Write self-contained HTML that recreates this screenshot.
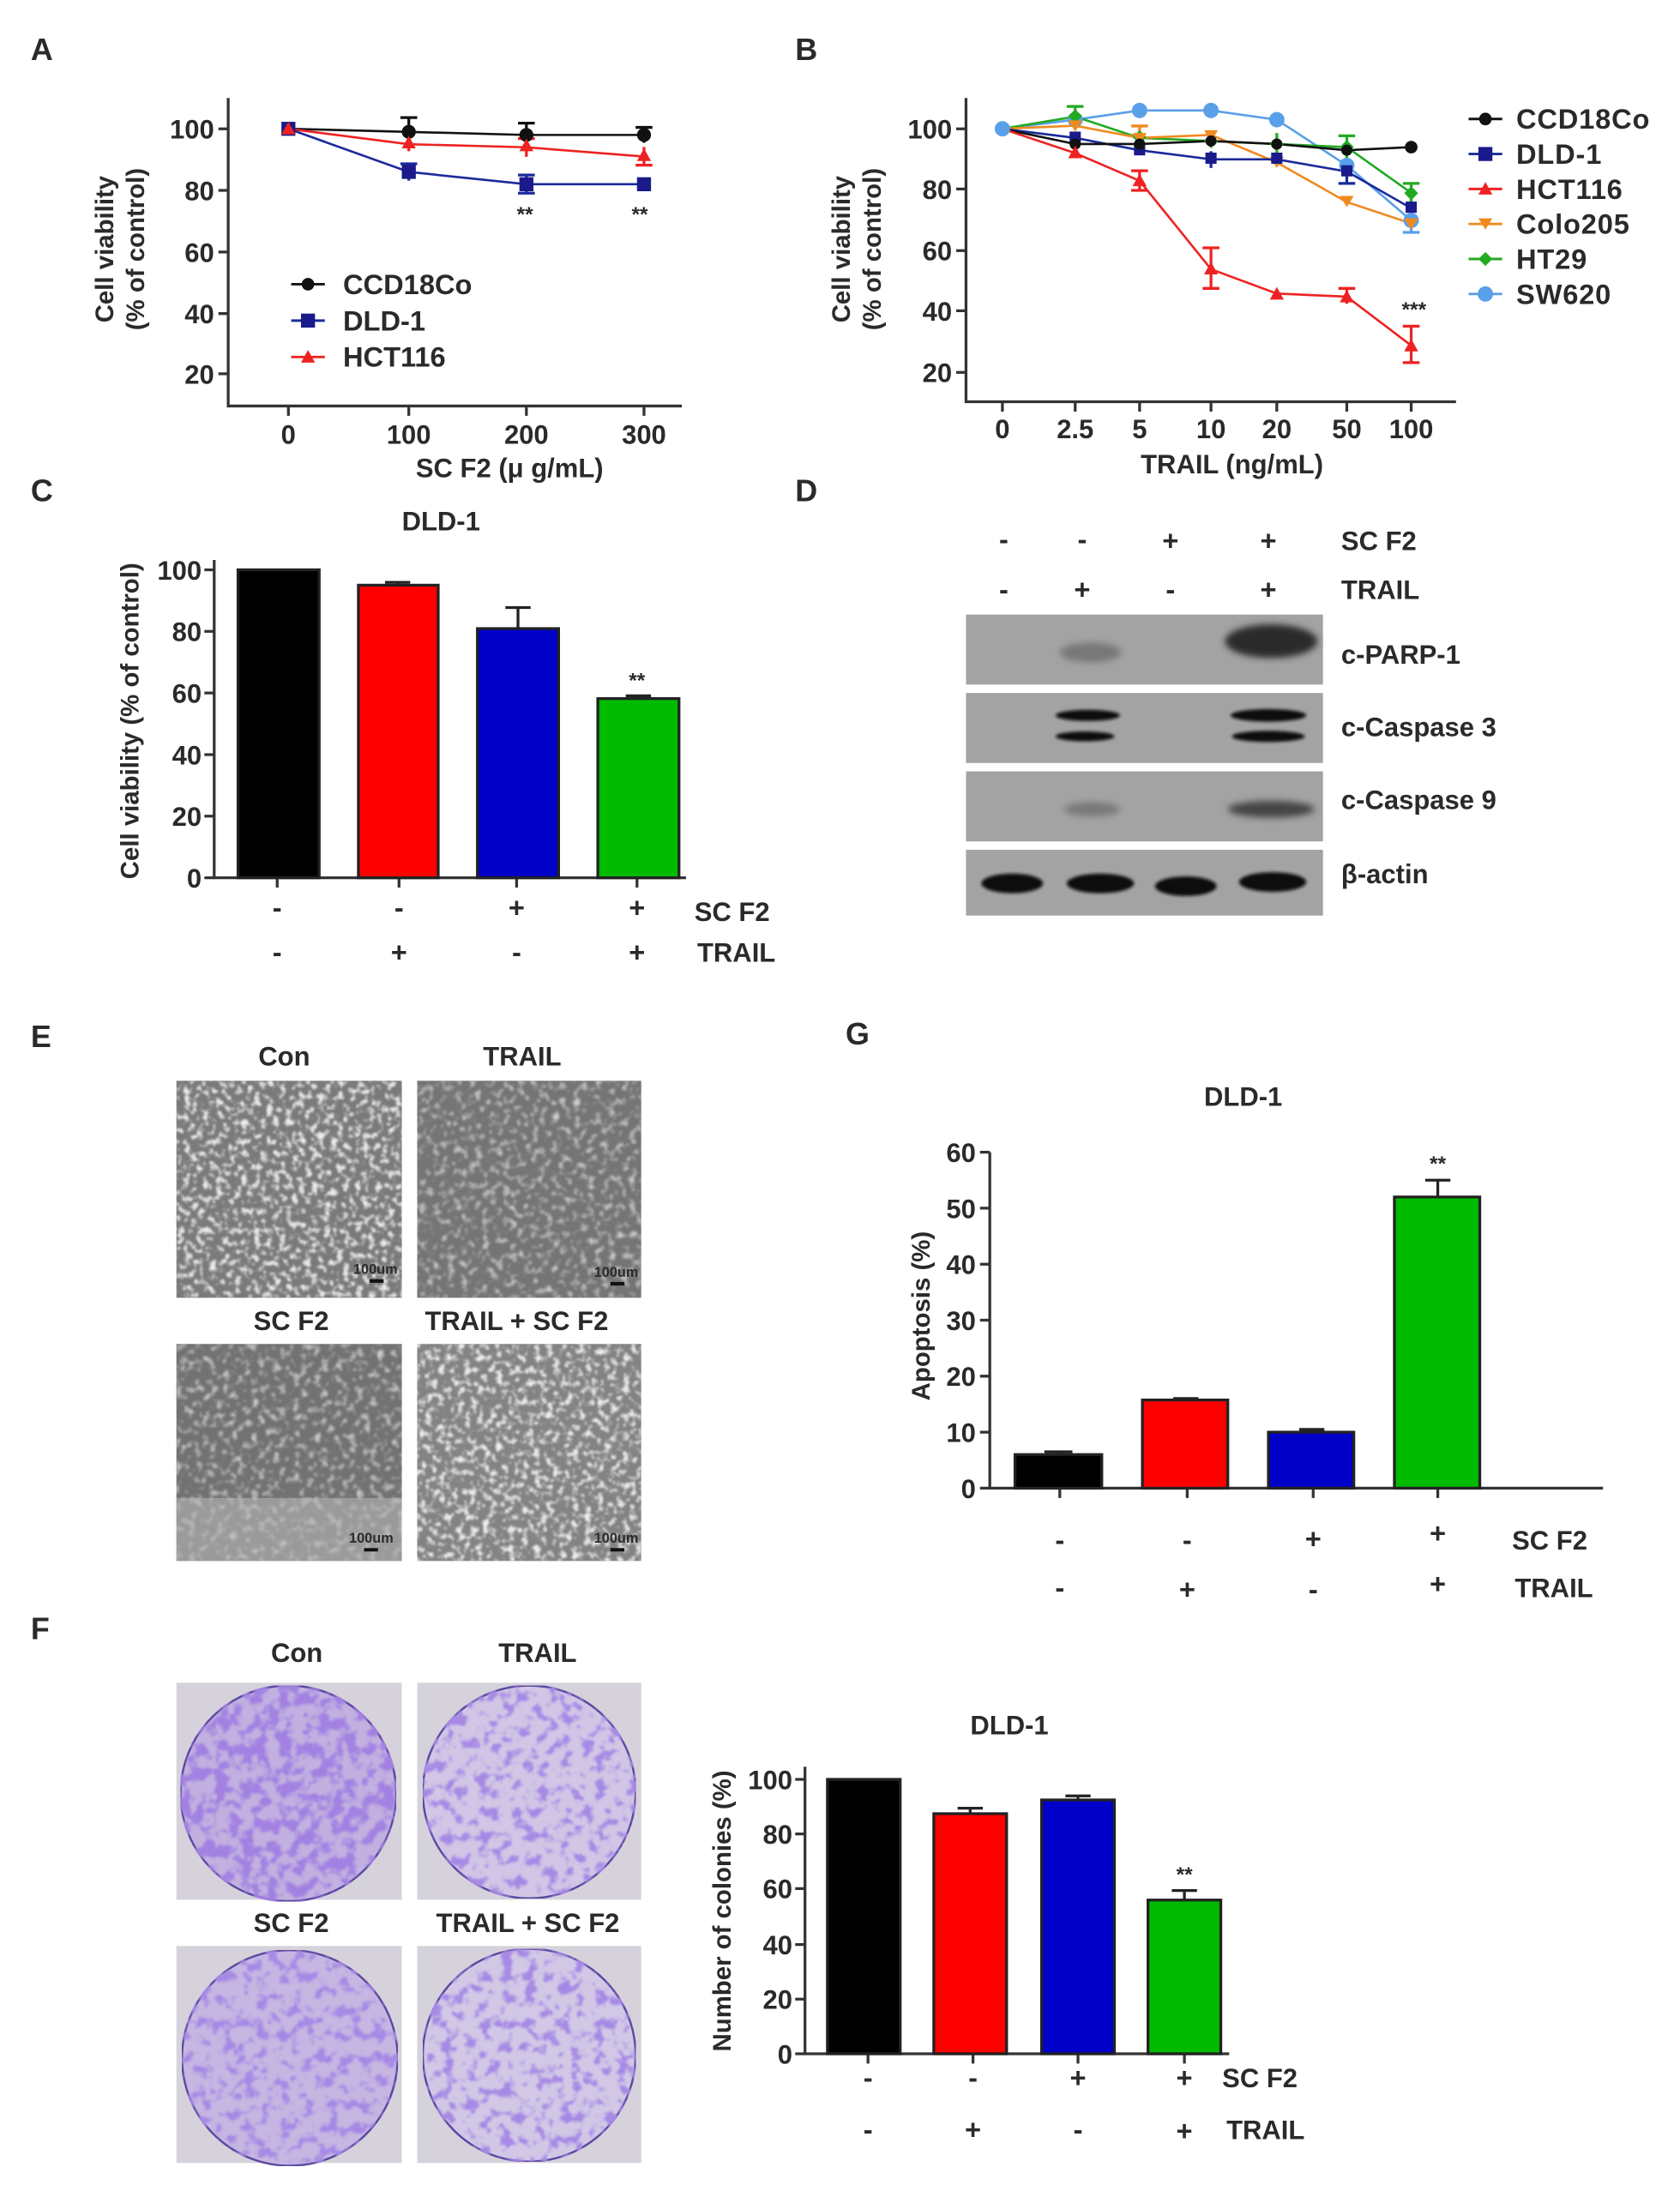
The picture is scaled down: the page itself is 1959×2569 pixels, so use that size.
<!DOCTYPE html>
<html><head><meta charset="utf-8"><style>
html,body{margin:0;padding:0;background:#fff;}
svg{display:block;}
text{font-family:"Liberation Sans",Arial,sans-serif;font-weight:bold;fill:#2a2a2a;}
</style></head><body>
<svg width="1959" height="2569" viewBox="0 0 1200 1573.6" preserveAspectRatio="none" xmlns="http://www.w3.org/2000/svg">
<defs>
<filter id="micro" x="0" y="0" width="100%" height="100%">
<feTurbulence type="fractalNoise" baseFrequency="0.22" numOctaves="2" seed="3" result="n"/>
<feColorMatrix in="n" type="matrix" values="0 0 0 0 0.85 0 0 0 0 0.85 0 0 0 0 0.85 4 0 0 0 -2.0" result="s"/>
<feGaussianBlur in="s" stdDeviation="0.7" result="sb"/>
<feComposite in="sb" in2="SourceGraphic" operator="in" result="c"/>
<feMerge><feMergeNode in="SourceGraphic"/><feMergeNode in="c"/></feMerge>
</filter>
<filter id="micro2" x="0" y="0" width="100%" height="100%">
<feTurbulence type="fractalNoise" baseFrequency="0.2" numOctaves="2" seed="9" result="n"/>
<feColorMatrix in="n" type="matrix" values="0 0 0 0 0.75 0 0 0 0 0.75 0 0 0 0 0.75 2.5 0 0 0 -1.3" result="s"/>
<feGaussianBlur in="s" stdDeviation="0.8" result="sb"/>
<feComposite in="sb" in2="SourceGraphic" operator="in" result="c"/>
<feMerge><feMergeNode in="SourceGraphic"/><feMergeNode in="c"/></feMerge>
</filter>
<filter id="spots" x="0" y="0" width="100%" height="100%">
<feTurbulence type="fractalNoise" baseFrequency="0.11" numOctaves="3" seed="5" result="n"/>
<feColorMatrix in="n" type="matrix" values="0 0 0 0 0.36 0 0 0 0 0.22 0 0 0 0 0.76 6 0 0 0 -2.6" result="s"/>
<feGaussianBlur in="s" stdDeviation="0.6" result="sb"/>
<feComposite in="sb" in2="SourceGraphic" operator="in" result="c"/>
<feMerge><feMergeNode in="SourceGraphic"/><feMergeNode in="c"/></feMerge>
</filter>
<filter id="spots2" x="0" y="0" width="100%" height="100%">
<feTurbulence type="fractalNoise" baseFrequency="0.12" numOctaves="3" seed="11" result="n"/>
<feColorMatrix in="n" type="matrix" values="0 0 0 0 0.38 0 0 0 0 0.25 0 0 0 0 0.78 6 0 0 0 -3.0" result="s"/>
<feGaussianBlur in="s" stdDeviation="0.6" result="sb"/>
<feComposite in="sb" in2="SourceGraphic" operator="in" result="c"/>
<feMerge><feMergeNode in="SourceGraphic"/><feMergeNode in="c"/></feMerge>
</filter>
<filter id="blur2"><feGaussianBlur stdDeviation="2.5"/></filter>
<filter id="blur1"><feGaussianBlur stdDeviation="1.2"/></filter>
</defs>

<!-- Panel letters -->
<text x="22" y="43" font-size="22">A</text>
<text x="568" y="43" font-size="22">B</text>
<text x="22" y="358" font-size="22">C</text>
<text x="568" y="358" font-size="22">D</text>
<text x="22" y="748" font-size="22">E</text>
<text x="604" y="746" font-size="22">G</text>
<text x="22" y="1171" font-size="22">F</text>

<!-- ===== Panel A ===== -->
<g stroke="#333" stroke-width="2" fill="none">
<path d="M163 70 V290 H487"/>
<path d="M156 92H163M156 136H163M156 180H163M156 224H163M156 267H163"/>
<path d="M206 290V297M292 290V297M376 290V297M460 290V297"/>
</g>
<g font-size="19" text-anchor="end">
<text x="153" y="99">100</text><text x="153" y="143">80</text><text x="153" y="187">60</text><text x="153" y="231">40</text><text x="153" y="274">20</text>
</g>
<g font-size="19" text-anchor="middle">
<text x="206" y="317">0</text><text x="292" y="317">100</text><text x="376" y="317">200</text><text x="460" y="317">300</text>
<text x="364" y="341">SC F2 (μ g/mL)</text>
</g>
<g font-size="18" text-anchor="middle">
<text transform="translate(81,178) rotate(-90)">Cell viability</text>
<text transform="translate(103,178) rotate(-90)">(% of control)</text>
</g>
<polyline points="206,92 292,94.2 376,96.4 460,96.4" fill="none" stroke="#111" stroke-width="1.6"/>
<polyline points="206,92 292,103 376,105.2 460,111.8" fill="none" stroke="#e22" stroke-width="1.6"/>
<polyline points="206,92 292,122.8 376,131.6 460,131.6" fill="none" stroke="#1a2a9a" stroke-width="1.6"/>
<g stroke="#111" stroke-width="2">
<path d="M292 84V100M286 84H298M376 88V102M370 88H382M460 91V102M454 91H466"/>
</g>
<g stroke="#e22" stroke-width="2"><path d="M292 98V108M376 99V112M370 99H382M460 105V118M454 118H466"/></g>
<g stroke="#1a2a9a" stroke-width="2"><path d="M292 117V129M286 117H298M376 125V138M370 125H382M370 138H382"/></g>
<g fill="#111"><circle cx="292" cy="94.2" r="5"/><circle cx="376" cy="96.4" r="5"/><circle cx="460" cy="96.4" r="5"/></g>
<g fill="#1a1a8a"><rect x="201" y="87" width="10" height="10"/><rect x="287" y="117.8" width="10" height="10"/><rect x="371" y="126.6" width="10" height="10"/><rect x="455" y="126.6" width="10" height="10"/></g>
<g fill="#e22"><path d="M292 97l5 9h-10z"/><path d="M376 99l5 9h-10z"/><path d="M460 106l5 9h-10z"/><path d="M206 87l5 9h-10z"/></g>
<g font-size="15" text-anchor="middle" fill="#333"><text x="375" y="158">**</text><text x="457" y="158">**</text></g>
<g stroke-width="1.8"><path d="M208 203H232" stroke="#111"/><path d="M208 229H232" stroke="#1a2a9a"/><path d="M208 255H232" stroke="#e22"/></g>
<circle cx="220" cy="203" r="4.5" fill="#111"/><rect x="215" y="224" width="10" height="10" fill="#1a1a8a"/><path d="M220 250l5 9h-10z" fill="#e22"/>
<g font-size="20"><text x="245" y="210">CCD18Co</text><text x="245" y="236">DLD-1</text><text x="245" y="262">HCT116</text></g>

<!-- ===== Panel B ===== -->
<g stroke="#333" stroke-width="2" fill="none">
<path d="M690 70 V287 H1040"/>
<path d="M683 92H690M683 135H690M683 179H690M683 222H690M683 266H690"/>
<path d="M716 287V294M768 287V294M814 287V294M865 287V294M912 287V294M962 287V294M1008 287V294"/>
</g>
<g font-size="19" text-anchor="end">
<text x="680" y="99">100</text><text x="680" y="142">80</text><text x="680" y="186">60</text><text x="680" y="229">40</text><text x="680" y="273">20</text>
</g>
<g font-size="19" text-anchor="middle">
<text x="716" y="313">0</text><text x="768" y="313">2.5</text><text x="814" y="313">5</text><text x="865" y="313">10</text><text x="912" y="313">20</text><text x="962" y="313">50</text><text x="1008" y="313">100</text>
<text x="880" y="338">TRAIL (ng/mL)</text>
</g>
<g font-size="18" text-anchor="middle">
<text transform="translate(607,178) rotate(-90)">Cell viability</text>
<text transform="translate(629,178) rotate(-90)">(% of control)</text>
</g>
<g fill="none" stroke-width="1.6">
<polyline stroke="#5aa0e8" points="716,92 768,85.5 814,78.9 865,78.9 912,85.5 962,118.2 1008,157.4"/>
<polyline stroke="#22aa22" points="716,92 768,83.3 814,98.5 865,100.7 912,102.9 962,105.1 1008,137.8"/>
<polyline stroke="#f08a20" points="716,92 768,89.8 814,98.5 865,96.4 912,116 962,144.3 1008,159.6"/>
<polyline stroke="#1a2a9a" points="716,92 768,98.5 814,107.3 865,113.8 912,113.8 962,122.5 1008,148.7"/>
<polyline stroke="#111" points="716,92 768,102.9 814,102.9 865,100.7 912,102.9 962,107.3 1008,105.1"/>
<polyline stroke="#e22" points="716,92 768,109.4 814,129.1 865,192.3 912,209.7 962,211.9 1008,246.8"/>
</g>
<g stroke-width="2">
<path stroke="#e22" d="M814 122V136M808 122H820M808 136H820M865 177V206M859 177H871M859 206H871M962 206V217M956 206H968M1008 233V259M1002 233H1014M1002 259H1014"/>
<path stroke="#22aa22" d="M768 76V90M762 76H774M912 95V110M962 97V113M956 97H968M1008 131V145M1002 131H1014"/>
<path stroke="#f08a20" d="M814 90V107M808 90H820"/>
<path stroke="#1a2a9a" d="M865 108V120M962 114V131M956 131H968"/>
<path stroke="#5aa0e8" d="M1008 149V166M1002 166H1014"/>
</g>
<g fill="#5aa0e8"><circle cx="716" cy="92" r="5.5"/><circle cx="768" cy="85.5" r="5.5"/><circle cx="814" cy="78.9" r="5.5"/><circle cx="865" cy="78.9" r="5.5"/><circle cx="912" cy="85.5" r="5.5"/><circle cx="962" cy="118.2" r="5.5"/><circle cx="1008" cy="157.4" r="5.5"/></g>
<g fill="#22aa22"><path d="M768 78l5 5-5 5-5-5z"/><path d="M814 93l5 5-5 5-5-5z"/><path d="M865 96l5 5-5 5-5-5z"/><path d="M912 98l5 5-5 5-5-5z"/><path d="M962 100l5 5-5 5-5-5z"/><path d="M1008 133l5 5-5 5-5-5z"/></g>
<g fill="#f08a20"><path d="M763 86h10l-5 8z"/><path d="M809 95h10l-5 8z"/><path d="M860 93h10l-5 8z"/><path d="M907 112h10l-5 8z"/><path d="M957 140h10l-5 8z"/><path d="M1003 156h10l-5 8z"/></g>
<g fill="#1a1a8a"><rect x="764" y="94" width="8" height="8"/><rect x="810" y="103" width="8" height="8"/><rect x="861" y="109" width="8" height="8"/><rect x="908" y="109" width="8" height="8"/><rect x="958" y="118" width="8" height="8"/><rect x="1004" y="144" width="8" height="8"/></g>
<g fill="#111"><circle cx="768" cy="102.9" r="4"/><circle cx="814" cy="102.9" r="4"/><circle cx="865" cy="100.7" r="4"/><circle cx="912" cy="102.9" r="4"/><circle cx="962" cy="107.3" r="4"/><circle cx="1008" cy="105.1" r="4.5"/></g>
<g fill="#e22"><path d="M768 104l5 9h-10z"/><path d="M814 124l5 9h-10z"/><path d="M865 187l5 9h-10z"/><path d="M912 205l5 9h-10z"/><path d="M962 207l5 9h-10z"/><path d="M1008 242l5 9h-10z"/></g>
<text x="1010" y="226" font-size="15" text-anchor="middle" fill="#333">***</text>
<g stroke-width="1.8">
<path d="M1049 85H1073" stroke="#111"/><path d="M1049 110H1073" stroke="#1a2a9a"/><path d="M1049 135H1073" stroke="#e22"/><path d="M1049 160H1073" stroke="#f08a20"/><path d="M1049 185H1073" stroke="#22aa22"/><path d="M1049 210H1073" stroke="#5aa0e8"/>
</g>
<circle cx="1061" cy="85" r="4.5" fill="#111"/><rect x="1056" y="105" width="10" height="10" fill="#1a1a8a"/><path d="M1061 130l5 9h-10z" fill="#e22"/><path d="M1056 156h10l-5 8z" fill="#f08a20"/><path d="M1061 180l5 5-5 5-5-5z" fill="#22aa22"/><circle cx="1061" cy="210" r="5.5" fill="#5aa0e8"/>
<g font-size="20" letter-spacing="0.5"><text x="1083" y="92">CCD18Co</text><text x="1083" y="117">DLD-1</text><text x="1083" y="142">HCT116</text><text x="1083" y="167">Colo205</text><text x="1083" y="192">HT29</text><text x="1083" y="217">SW620</text></g>

<!-- ===== Panel C ===== -->
<text x="315" y="379" font-size="19" text-anchor="middle">DLD-1</text>
<g stroke="#333" stroke-width="2" fill="none">
<path d="M153 400V627H490"/>
<path d="M146 407H153M146 451H153M146 495H153M146 539H153M146 583H153M146 627H153"/>
<path d="M198 627V634M285 627V634M369 627V634M455 627V634"/>
</g>
<g font-size="19" text-anchor="end">
<text x="144" y="414">100</text><text x="144" y="458">80</text><text x="144" y="502">60</text><text x="144" y="546">40</text><text x="144" y="590">20</text><text x="144" y="634">0</text>
</g>
<text transform="translate(99,515) rotate(-90)" font-size="18" text-anchor="middle">Cell viability (% of control)</text>
<g stroke="#222" stroke-width="2">
<rect x="170" y="407" width="58" height="220" fill="#000"/>
<rect x="256" y="418" width="57" height="209" fill="#f00"/>
<rect x="341" y="449" width="58" height="178" fill="#0000c8"/>
<rect x="427" y="499" width="58" height="128" fill="#00bb00"/>
<path d="M370 449V434M361 434H379M456 499V497M447 497H465M284 418V416M275 416H293" fill="none"/>
</g>
<text x="455" y="491" font-size="15" text-anchor="middle" fill="#333">**</text>
<g font-size="20" text-anchor="middle">
<text x="198" y="655">-</text><text x="285" y="655">-</text><text x="369" y="655">+</text><text x="455" y="655">+</text>
<text x="198" y="687">-</text><text x="285" y="687">+</text><text x="369" y="687">-</text><text x="455" y="687">+</text>
</g>
<g font-size="19"><text x="496" y="658">SC F2</text><text x="498" y="687">TRAIL</text></g>

<!-- ===== Panel D ===== -->
<g font-size="20" text-anchor="middle">
<text x="717" y="392">-</text><text x="773" y="392">-</text><text x="836" y="393">+</text><text x="906" y="393">+</text>
<text x="717" y="428">-</text><text x="773" y="428">+</text><text x="836" y="428">-</text><text x="906" y="428">+</text>
</g>
<g font-size="19"><text x="958" y="393">SC F2</text><text x="958" y="428">TRAIL</text></g>
<g fill="#a3a3a3">
<rect x="690" y="439" width="255" height="50"/>
<rect x="690" y="495" width="255" height="50"/>
<rect x="690" y="551" width="255" height="50"/>
<rect x="690" y="607" width="255" height="47"/>
</g>
<g filter="url(#blur2)">
<ellipse cx="779" cy="466" rx="22" ry="7" fill="#777"/>
<ellipse cx="908" cy="458" rx="33" ry="12" fill="#2a2a2a"/>
<ellipse cx="780" cy="578" rx="20" ry="5" fill="#777"/>
<ellipse cx="908" cy="578" rx="31" ry="6" fill="#444"/>
</g>
<g filter="url(#blur1)" fill="#111">
<ellipse cx="777" cy="511" rx="23" ry="4"/><ellipse cx="775" cy="526" rx="21" ry="3.5"/>
<ellipse cx="906" cy="511" rx="27" ry="4.5"/><ellipse cx="906" cy="526" rx="26" ry="4"/>
<ellipse cx="723" cy="631" rx="22" ry="7"/><ellipse cx="786" cy="631" rx="24" ry="7"/><ellipse cx="847" cy="633" rx="22" ry="7"/><ellipse cx="909" cy="630" rx="24" ry="7"/>
</g>
<g font-size="19"><text x="958" y="474">c-PARP-1</text><text x="958" y="526">c-Caspase 3</text><text x="958" y="578">c-Caspase 9</text><text x="958" y="631">β-actin</text></g>

<!-- ===== Panel E ===== -->
<g font-size="19" text-anchor="middle">
<text x="203" y="761">Con</text><text x="373" y="761">TRAIL</text>
<text x="208" y="950">SC F2</text><text x="369" y="950">TRAIL + SC F2</text>
</g>
<rect x="126" y="772" width="161" height="155" fill="#7a7a7a" filter="url(#micro)"/>
<rect x="298" y="772" width="160" height="155" fill="#747474" filter="url(#micro2)"/>
<rect x="126" y="960" width="161" height="155" fill="#727272" filter="url(#micro2)"/>
<rect x="126" y="1070" width="161" height="45" fill="#b5b5b5" opacity="0.6"/>
<rect x="298" y="960" width="160" height="155" fill="#838383" filter="url(#micro)"/>
<g font-size="10" fill="#111" text-anchor="end">
<text x="284" y="910">100um</text><text x="456" y="912">100um</text><text x="281" y="1102">100um</text><text x="456" y="1102">100um</text>
</g>
<g stroke="#111" stroke-width="2.5"><path d="M264 915H274M436 917H446M260 1107H270M436 1107H446"/></g>

<!-- ===== Panel G ===== -->
<text x="888" y="790" font-size="19" text-anchor="middle">DLD-1</text>
<g stroke="#333" stroke-width="2" fill="none">
<path d="M707 823V1063H1145"/>
<path d="M700 823H707M700 863H707M700 903H707M700 943H707M700 983H707M700 1023H707M700 1063H707"/>
<path d="M757 1063V1070M848 1063V1070M938 1063V1070M1027 1063V1070"/>
</g>
<g font-size="19" text-anchor="end">
<text x="697" y="830">60</text><text x="697" y="870">50</text><text x="697" y="910">40</text><text x="697" y="950">30</text><text x="697" y="990">20</text><text x="697" y="1030">10</text><text x="697" y="1070">0</text>
</g>
<text transform="translate(664,940) rotate(-90)" font-size="18" text-anchor="middle">Apoptosis (%)</text>
<g stroke="#222" stroke-width="2">
<rect x="725" y="1039" width="62" height="24" fill="#000"/>
<rect x="816" y="1000" width="61" height="63" fill="#f00"/>
<rect x="906" y="1023" width="61" height="40" fill="#0000c8"/>
<rect x="996" y="855" width="61" height="208" fill="#00bb00"/>
<path d="M1027 855V843M1018 843H1036M756 1039V1037M746 1037H766M847 1000V999M838 999H856M937 1023V1021M928 1021H946" fill="none"/>
</g>
<text x="1027" y="836" font-size="15" text-anchor="middle" fill="#333">**</text>
<g font-size="20" text-anchor="middle">
<text x="757" y="1107">-</text><text x="848" y="1107">-</text><text x="938" y="1106">+</text><text x="1027" y="1102">+</text>
<text x="757" y="1141">-</text><text x="848" y="1142">+</text><text x="938" y="1142">-</text><text x="1027" y="1138">+</text>
</g>
<g font-size="19"><text x="1080" y="1107">SC F2</text><text x="1082" y="1141">TRAIL</text></g>

<!-- ===== Panel F ===== -->
<g font-size="19" text-anchor="middle">
<text x="212" y="1187">Con</text><text x="384" y="1187">TRAIL</text>
<text x="208" y="1380">SC F2</text><text x="377" y="1380">TRAIL + SC F2</text>
</g>
<g>
<rect x="126" y="1202" width="161" height="155" fill="#d6d2dc"/>
<rect x="298" y="1202" width="160" height="155" fill="#d6d2dc"/>
<rect x="126" y="1390" width="161" height="155" fill="#d6d2dc"/>
<rect x="298" y="1390" width="160" height="155" fill="#d6d2dc"/>
<circle cx="206" cy="1281" r="77" fill="#c2b0e0" stroke="#5a4aa0" stroke-width="1.5" filter="url(#spots)"/>
<circle cx="378" cy="1280" r="76" fill="#d2c6e6" stroke="#5a4aa0" stroke-width="1.5" filter="url(#spots2)"/>
<circle cx="207" cy="1470" r="77" fill="#c6b6e2" stroke="#5a4aa0" stroke-width="1.5" filter="url(#spots2)"/>
<circle cx="378" cy="1468" r="76" fill="#d2c8e6" stroke="#5a4aa0" stroke-width="1.5" filter="url(#spots2)"/>
</g>
<text x="721" y="1239" font-size="19" text-anchor="middle">DLD-1</text>
<g stroke="#333" stroke-width="2" fill="none">
<path d="M575 1262V1467H878"/>
<path d="M568 1271H575M568 1310H575M568 1349H575M568 1389H575M568 1428H575M568 1467H575"/>
<path d="M620 1467V1474M695 1467V1474M770 1467V1474M846 1467V1474"/>
</g>
<g font-size="19" text-anchor="end">
<text x="566" y="1278">100</text><text x="566" y="1317">80</text><text x="566" y="1356">60</text><text x="566" y="1396">40</text><text x="566" y="1435">20</text><text x="566" y="1474">0</text>
</g>
<text transform="translate(522,1365) rotate(-90)" font-size="18" text-anchor="middle">Number of colonies (%)</text>
<g stroke="#222" stroke-width="2">
<rect x="591" y="1271" width="52" height="196" fill="#000"/>
<rect x="667" y="1295.5" width="52" height="171.5" fill="#f00"/>
<rect x="744" y="1285.7" width="52" height="181.3" fill="#0000c8"/>
<rect x="820" y="1357.2" width="52" height="109.8" fill="#00bb00"/>
<path d="M693 1295V1291.6M684 1291.6H702M770 1285V1282.8M761 1282.8H779M846 1357V1350.4M837 1350.4H855" fill="none"/>
</g>
<text x="846" y="1344" font-size="15" text-anchor="middle" fill="#333">**</text>
<g font-size="20" text-anchor="middle">
<text x="620" y="1491">-</text><text x="695" y="1491">-</text><text x="770" y="1491">+</text><text x="846" y="1491">+</text>
<text x="620" y="1528">-</text><text x="695" y="1528">+</text><text x="770" y="1528">-</text><text x="846" y="1529">+</text>
</g>
<g font-size="19"><text x="873" y="1491">SC F2</text><text x="876" y="1528">TRAIL</text></g>
</svg>
</body></html>
